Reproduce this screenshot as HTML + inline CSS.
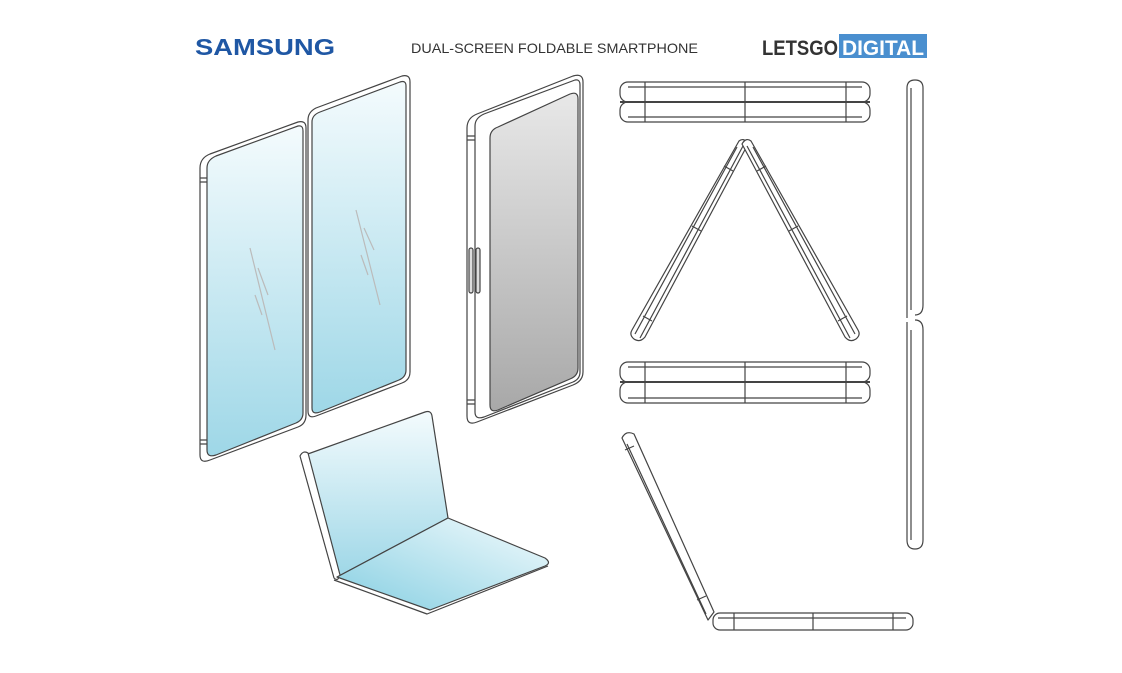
<!DOCTYPE html>
<html><head><meta charset="utf-8"><style>
body{margin:0;background:#fff;}
svg{display:block}
</style></head><body>
<svg width="1122" height="673" viewBox="0 0 1122 673" xmlns="http://www.w3.org/2000/svg">
<defs>
<linearGradient id="b" x1="0" y1="0" x2="0" y2="1"><stop offset="0" stop-color="#f4fbfd"/><stop offset="1" stop-color="#9ed7e7"/></linearGradient>
<linearGradient id="b2" x1="1" y1="0" x2="0" y2="1"><stop offset="0" stop-color="#f4fbfd"/><stop offset="1" stop-color="#86cfe2"/></linearGradient>
<linearGradient id="g" x1="0" y1="0" x2="0" y2="1"><stop offset="0" stop-color="#e8e8e8"/><stop offset="1" stop-color="#a8a8a8"/></linearGradient>
</defs>
<text x="195" y="55" font-family="Liberation Sans, sans-serif" font-weight="bold" font-size="23" fill="#1f57a4" textLength="140" lengthAdjust="spacingAndGlyphs">SAMSUNG</text>
<text x="411" y="53" font-family="Liberation Sans, sans-serif" font-size="14" fill="#333" textLength="287" lengthAdjust="spacingAndGlyphs">DUAL-SCREEN FOLDABLE SMARTPHONE</text>
<text x="762" y="55" font-family="Liberation Sans, sans-serif" font-weight="bold" font-size="21" fill="#333" textLength="76" lengthAdjust="spacingAndGlyphs">LETSGO</text>
<rect x="839" y="34" width="88" height="24" fill="#4a8fcf"/>
<text x="842" y="55" font-family="Liberation Sans, sans-serif" font-weight="bold" font-size="21" fill="#fff" textLength="82" lengthAdjust="spacingAndGlyphs">DIGITAL</text>

<g fill="none" stroke="#444" stroke-width="1.2" stroke-linejoin="round">
<path d="M200,168 Q200,158 210,154 L298,122 Q306,120 306,128 L306,415 Q306,424 298,427 L210,460 Q200,464 200,455 Z" fill="#fff"/>
<path d="M207,168 Q207,160 216,156 L298,126 Q303,125 303,131 L303,413 Q303,420 296,423 L216,455 Q207,458 207,450 Z" fill="url(#b)"/>
<path d="M308,120 Q308,112 316,108 L402,76 Q410,74 410,82 L410,372 Q410,380 402,383 L316,416 Q308,419 308,411 Z" fill="#fff"/>
<path d="M312,122 Q312,115 320,112 L400,82 Q406,80 406,86 L406,370 Q406,377 399,380 L320,412 Q312,415 312,408 Z" fill="url(#b)"/>
<path d="M200,178 L207,178 M200,182 L207,182 M200,440 L207,440 M200,444 L207,444"/>
<g stroke="#bbb"><path d="M250,248 L275,350 M258,268 L268,295 M255,295 L262,315 M356,210 L380,305 M364,228 L374,250 M361,255 L368,275"/></g>
<path d="M467,128 Q467,118 477,114 L573,76 Q583,73 583,82 L583,372 Q583,381 573,385 L477,422 Q467,426 467,416 Z" fill="#fff"/>
<path d="M475,126 Q475,118 484,114 L575,80 Q580,79 580,85 L580,372 Q580,379 573,382 L484,417 Q475,420 475,412 Z"/>
<path d="M490,138 Q490,130 498,127 L570,94 Q578,91 578,99 L578,368 Q578,376 570,379 L498,410 Q490,413 490,405 Z" fill="url(#g)"/>
<path d="M467,136 L475,136 M467,140 L475,140 M467,400 L475,400 M467,404 L475,404"/>
<rect x="469" y="248" width="4" height="45" rx="2" fill="#ddd"/><rect x="476" y="248" width="4" height="45" rx="2" fill="#ddd"/>
<path d="M305,455 L425,412 Q431,410 432,416 L448,518 L337,577 Z" fill="url(#b)"/>
<path d="M300,456 Q303,450 308,453 L340,575 Q338,582 334,578 Z" fill="#fff"/>
<path d="M337,577 L448,518 L545,558 Q552,563 545,566 L430,610 Z" fill="url(#b2)"/>
<path d="M334,580 L427,614 L548,566"/>
<rect x="620" y="82" width="250" height="20" rx="8" fill="#fff"/>
<rect x="620" y="102" width="250" height="20" rx="8" fill="#fff"/>
<path d="M628,87 L862,87 M628,117 L862,117 M645,82 L645,122 M745,82 L745,122 M846,82 L846,122"/>
<path d="M620,102 L870,102" stroke-width="2"/>
<rect x="620" y="362" width="250" height="20" rx="8" fill="#fff"/>
<rect x="620" y="382" width="250" height="21" rx="8" fill="#fff"/>
<path d="M628,367 L862,367 M628,398 L862,398 M645,362 L645,403 M745,362 L745,403 M846,362 L846,403"/>
<path d="M620,382 L870,382" stroke-width="2"/>
<!-- triangle legs -->
<path d="M739,141 Q744,137 748,144 L645,337 Q640,343 634,339 Q629,335 632,330 Z" fill="#fff"/>
<path d="M737,147 L635,334 M743,146 L640,338 M724,166 L733,171 M692,226 L701,231 M643,316 L652,321"/>
<path d="M751,141 Q746,137 742,144 L845,337 Q850,343 856,339 Q861,335 858,330 Z" fill="#fff"/>
<path d="M753,147 L855,334 M747,146 L850,338 M766,166 L757,171 M798,226 L789,231 M847,316 L838,321"/>
<path d="M907,318 L907,88 Q907,80 915,80 Q923,80 923,88 L923,305 Q923,315 915,315 M915,320 Q923,320 923,330 L923,540 Q923,549 915,549 Q907,549 907,540 L907,322"/>
<path d="M911,88 L911,310 M911,330 L911,540"/>
<path d="M622,438 Q626,430 634,434 L714,612 L708,620 Z" fill="#fff"/>
<path d="M627,444 L706,614 M625,450 L634,446 M697,600 L706,596"/>
<rect x="713" y="613" width="200" height="17" rx="7" fill="#fff"/>
<path d="M718,618 L906,618 M734,613 L734,630 M813,613 L813,630 M893,613 L893,630"/>
</g>
</svg>
</body></html>
